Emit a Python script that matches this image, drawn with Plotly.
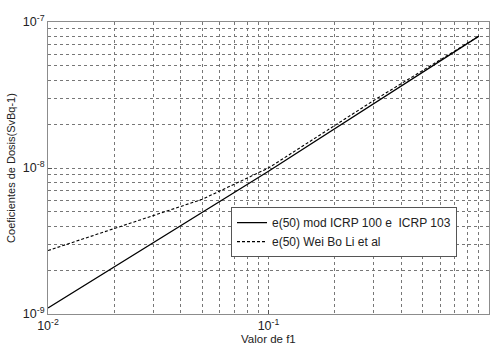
import plotly.graph_objects as go

# Data
x_icrp = [0.01, 0.1, 0.9]
y_icrp = [1.1e-9, 9.5e-9, 8.0e-8]
x_wei = [0.01, 0.05, 0.1, 0.3, 0.9]
y_wei = [2.72e-9, 6.1e-9, 1.0e-8, 2.9e-8, 8.0e-8]
name_icrp = "e(50) mod ICRP 100 e  ICRP 103"
name_wei = "e(50) Wei Bo Li et al"
x_ticks = [0.01, 0.1, 1]
x_ticktext = ["10<sup>-2</sup>", "10<sup>-1</sup>", "10<sup>0</sup>"]
y_ticks = [1e-9, 1e-8, 1e-7]
y_ticktext = ["10<sup>-9</sup>", "10<sup>-8</sup>", "10<sup>-7</sup>"]
x_title = "Valor de f1"
y_title = "Coeficientes de Dosis(SvBq-1)"

x_minor = [m * d for d in (0.01, 0.1) for m in range(2, 10)]
y_minor = [m * d for d in (1e-9, 1e-8) for m in range(2, 10)]

fig = go.Figure()
fig.add_trace(go.Scatter(x=x_icrp, y=y_icrp, mode="lines", name=name_icrp,
                         line=dict(color="black", width=1.3)))
fig.add_trace(go.Scatter(x=x_wei, y=y_wei, mode="lines", name=name_wei,
                         line=dict(color="black", width=1.1, dash="3px,2px")))

font_family = "Liberation Sans, Arial"
grid = dict(showgrid=True, gridcolor="#777777", gridwidth=0.8, griddash="dot")
axis_common = dict(type="log", showline=True, linecolor="#8c8c8c", linewidth=1,
                   mirror=True, ticks="inside", ticklen=4, tickcolor="#555555",
                   zeroline=False, automargin=False,
                   tickfont=dict(family=font_family, size=12.5, color="#222222"),
                   **grid)

fig.update_xaxes(range=[-2, 0], tickvals=x_ticks, ticktext=x_ticktext,
                 minor=dict(tickvals=x_minor, ticks="", showgrid=True,
                            gridcolor="#777777", gridwidth=0.8, griddash="dot"),
                 **axis_common)
fig.update_yaxes(range=[-9, -7], tickvals=y_ticks, ticktext=y_ticktext,
                 title_text=y_title, title_standoff=4,
                 title_font=dict(family=font_family, size=11, color="#222222"),
                 minor=dict(tickvals=y_minor, ticks="", showgrid=True,
                            gridcolor="#777777", gridwidth=0.8, griddash="dot"),
                 **axis_common)

fig.add_annotation(text=x_title, xref="paper", yref="paper", x=0.5, y=-0.085,
                   xanchor="center", yanchor="middle", showarrow=False,
                   font=dict(family=font_family, size=11.5, color="#222222"))

fig.update_layout(
    width=498, height=344,
    margin=dict(l=48, r=9, t=22, b=30),
    paper_bgcolor="white", plot_bgcolor="white",
    showlegend=True,
    legend=dict(x=0.415, y=0.366, xanchor="left", yanchor="top",
                bgcolor="white", bordercolor="#555555", borderwidth=1,
                font=dict(family=font_family, size=12, color="#222222"),
                tracegroupgap=0, itemwidth=30),
)

fig.write_html("out.html", config={"displayModeBar": False},
               post_script="document.body.style.margin='0';document.body.style.overflow='hidden';")
